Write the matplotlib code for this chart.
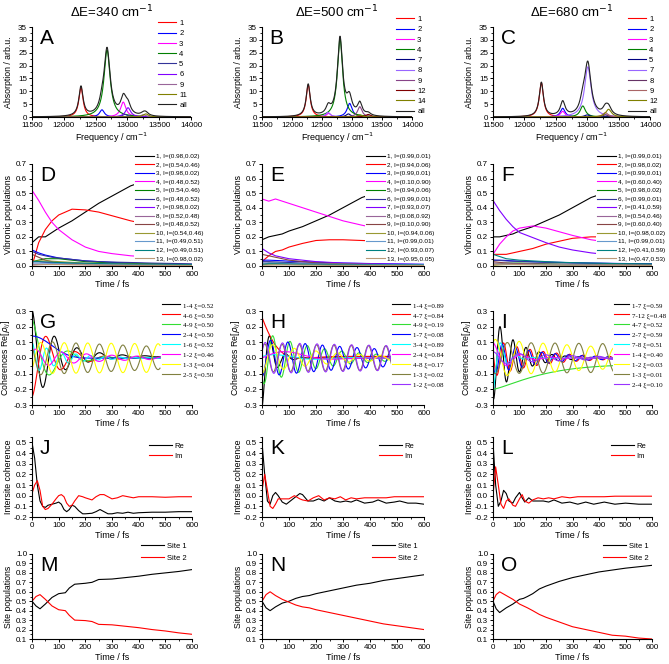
import numpy as np
import matplotlib
matplotlib.use('Agg')
import matplotlib.pyplot as plt
from matplotlib.ticker import MultipleLocator

W, H = 669, 664
plt.rcParams['font.family'] = ['Liberation Sans', 'DejaVu Sans']
plt.rcParams['axes.linewidth'] = 0.8

# ---------------- data ----------------
titles = ['\u0394E=340 cm$^{-1}$', '\u0394E=500 cm$^{-1}$', '\u0394E=680 cm$^{-1}$']

# absorption spectra: one Lorentzian band per component (centre, height, half width)
specA_labels = ['1', '2', '3', '4', '5', '6', '9', '11']
specA_centers = [12270, 12600, 12935, 12680, 12960, 13010, 13250, 13290]
specA_heights = [11.5, 2.8, 5.8, 26.0, 1.0, 3.6, 0.9, 1.2]
specA_widths = [40, 45, 50, 58, 50, 50, 50, 50]
specA_colors = ['#FF0000', '#0000FF', '#FF00FF', '#008000', '#333399', '#8000FF', '#996699', '#808000']

specB_labels = ['1', '2', '3', '4', '7', '8', '9', '12', '14']
specB_centers = [12270, 12960, 12610, 12800, 12940, 12600, 13130, 13270, 13130]
specB_heights = [12.5, 5.3, 1.4, 30.5, 1.2, 1.8, 4.0, 1.0, 0.8]
specB_widths = [40, 50, 45, 52, 45, 45, 45, 50, 50]
specB_colors = ['#FF0000', '#0000FF', '#FF00FF', '#008000', '#000080', '#9966FF', '#884488', '#800000', '#808000']

specC_labels = ['1', '2', '3', '4', '5', '7', '8', '9', '12']
specC_centers = [12270, 12610, 12610, 12930, 13000, 13010, 13290, 13290, 13340]
specC_heights = [13.3, 3.4, 2.2, 4.3, 0.8, 19.5, 0.8, 1.7, 3.0]
specC_widths = [40, 45, 45, 50, 50, 62, 50, 50, 55]
specC_colors = ['#FF0000', '#0000FF', '#FF00FF', '#008000', '#000080', '#9966FF', '#663366', '#AA6666', '#808000']

# vibronic populations
t_pop = [0, 25, 50, 75, 100, 150, 200, 250, 300, 370, 450, 600]
pop_colors = ['#000000', '#FF0000', '#0000FF', '#FF00FF', '#008000', '#333399', '#8000FF',
              '#996699', '#884444', '#999933', '#6699CC', '#008080', '#BB9977']
popD_labels = ['1, I=(0.98,0.02)', '2, I=(0.54,0.46)', '3, I=(0.98,0.02)', '4, I=(0.48,0.52)',
               '5, I=(0.54,0.46)', '6, I=(0.48,0.52)', '7, I=(0.98,0.02)', '8, I=(0.52,0.48)',
               '9, I=(0.48,0.52)', '10, I=(0.54,0.46)', '11, I=(0.49,0.51)', '12, I=(0.49,0.51)',
               '13, I=(0.98,0.02)']
popD = [
    [0.16, 0.20, 0.20, 0.23, 0.26, 0.31, 0.37, 0.43, 0.48, 0.55, 0.60, 0.65],
    [0.00, 0.16, 0.25, 0.31, 0.35, 0.39, 0.385, 0.37, 0.345, 0.31, 0.28, 0.23],
    [0.11, 0.09, 0.075, 0.065, 0.055, 0.045, 0.035, 0.03, 0.025, 0.02, 0.015, 0.01],
    [0.52, 0.45, 0.37, 0.30, 0.25, 0.18, 0.13, 0.10, 0.085, 0.07, 0.06, 0.05],
    [0.03, 0.04, 0.05, 0.05, 0.05, 0.04, 0.03, 0.025, 0.02, 0.018, 0.015, 0.01],
    [0.10, 0.08, 0.07, 0.06, 0.055, 0.045, 0.035, 0.03, 0.027, 0.024, 0.02, 0.015],
    [0.03, 0.03, 0.025, 0.022, 0.02, 0.018, 0.015, 0.013, 0.011, 0.01, 0.008, 0.006],
    [0.01, 0.012, 0.012, 0.012, 0.011, 0.01, 0.009, 0.008, 0.007, 0.006, 0.005, 0.004],
    [0.08, 0.06, 0.04, 0.03, 0.02, 0.015, 0.01, 0.008, 0.006, 0.005, 0.004, 0.003],
    [0.03, 0.035, 0.035, 0.033, 0.03, 0.025, 0.02, 0.018, 0.015, 0.013, 0.011, 0.009],
    [0.02, 0.02, 0.02, 0.018, 0.017, 0.015, 0.013, 0.012, 0.011, 0.01, 0.009, 0.008],
    [0.03, 0.03, 0.028, 0.026, 0.024, 0.021, 0.019, 0.017, 0.015, 0.013, 0.012, 0.01],
    [0.005, 0.008, 0.01, 0.01, 0.01, 0.009, 0.008, 0.007, 0.006, 0.005, 0.005, 0.004],
]
popE_labels = ['1, I=(0.99,0.01)', '2, I=(0.94,0.06)', '3, I=(0.99,0.01)', '4, I=(0.10,0.90)',
               '5, I=(0.94,0.06)', '6, I=(0.99,0.01)', '7, I=(0.93,0.07)', '8, I=(0.08,0.92)',
               '9, I=(0.10,0.90)', '10, I=(0.94,0.06)', '11, I=(0.99,0.01)', '12, I=(0.93,0.07)',
               '13, I=(0.95,0.05)']
popE = [
    [0.18, 0.20, 0.21, 0.22, 0.24, 0.27, 0.31, 0.35, 0.40, 0.47, 0.52, 0.60],
    [0.03, 0.07, 0.10, 0.11, 0.13, 0.155, 0.175, 0.18, 0.18, 0.175, 0.17, 0.16],
    [0.04, 0.04, 0.038, 0.036, 0.033, 0.03, 0.026, 0.023, 0.02, 0.018, 0.015, 0.012],
    [0.46, 0.445, 0.46, 0.445, 0.43, 0.40, 0.37, 0.34, 0.31, 0.28, 0.25, 0.20],
    [0.01, 0.02, 0.02, 0.02, 0.018, 0.015, 0.012, 0.01, 0.009, 0.008, 0.007, 0.006],
    [0.03, 0.03, 0.028, 0.026, 0.024, 0.02, 0.017, 0.015, 0.013, 0.011, 0.01, 0.008],
    [0.12, 0.09, 0.07, 0.06, 0.05, 0.04, 0.03, 0.025, 0.02, 0.017, 0.014, 0.01],
    [0.02, 0.02, 0.018, 0.016, 0.015, 0.013, 0.011, 0.01, 0.009, 0.008, 0.007, 0.006],
    [0.08, 0.07, 0.06, 0.05, 0.04, 0.03, 0.022, 0.018, 0.015, 0.012, 0.01, 0.008],
    [0.01, 0.012, 0.012, 0.012, 0.011, 0.01, 0.009, 0.008, 0.007, 0.006, 0.005, 0.004],
    [0.02, 0.02, 0.02, 0.018, 0.017, 0.015, 0.014, 0.013, 0.012, 0.011, 0.01, 0.009],
    [0.01, 0.015, 0.015, 0.014, 0.013, 0.012, 0.011, 0.01, 0.009, 0.008, 0.007, 0.006],
    [0.005, 0.006, 0.007, 0.007, 0.007, 0.006, 0.006, 0.005, 0.005, 0.004, 0.004, 0.003],
]
popF_labels = ['1, I=(0.99,0.01)', '2, I=(0.98,0.02)', '3, I=(0.99,0.01)', '4, I=(0.60,0.40)',
               '5, I=(0.98,0.02)', '6, I=(0.99,0.01)', '7, I=(0.41,0.59)', '8, I=(0.54,0.46)',
               '9, I=(0.60,0.40)', '10, I=(0.98,0.02)', '11, I=(0.99,0.01)', '12, I=(0.41,0.59)',
               '13, I=(0.47,0.53)']
popF = [
    [0.20, 0.20, 0.21, 0.22, 0.24, 0.27, 0.31, 0.35, 0.40, 0.47, 0.52, 0.60],
    [0.08, 0.08, 0.08, 0.09, 0.10, 0.12, 0.15, 0.17, 0.19, 0.20, 0.20, 0.19],
    [0.04, 0.04, 0.038, 0.035, 0.033, 0.03, 0.027, 0.025, 0.022, 0.02, 0.018, 0.015],
    [0.08, 0.15, 0.20, 0.24, 0.26, 0.275, 0.26, 0.235, 0.21, 0.18, 0.16, 0.14],
    [0.01, 0.015, 0.02, 0.02, 0.02, 0.018, 0.015, 0.013, 0.011, 0.01, 0.008, 0.006],
    [0.04, 0.038, 0.035, 0.033, 0.031, 0.028, 0.025, 0.023, 0.021, 0.019, 0.017, 0.014],
    [0.45, 0.38, 0.32, 0.27, 0.23, 0.195, 0.16, 0.13, 0.11, 0.09, 0.075, 0.06],
    [0.02, 0.02, 0.019, 0.018, 0.017, 0.015, 0.013, 0.012, 0.011, 0.01, 0.009, 0.008],
    [0.03, 0.025, 0.02, 0.017, 0.015, 0.012, 0.01, 0.009, 0.008, 0.007, 0.006, 0.005],
    [0.005, 0.008, 0.01, 0.01, 0.01, 0.009, 0.008, 0.007, 0.006, 0.005, 0.005, 0.004],
    [0.01, 0.012, 0.012, 0.012, 0.011, 0.01, 0.009, 0.008, 0.007, 0.006, 0.005, 0.004],
    [0.08, 0.065, 0.05, 0.045, 0.04, 0.035, 0.03, 0.026, 0.023, 0.02, 0.017, 0.014],
    [0.01, 0.012, 0.012, 0.011, 0.01, 0.009, 0.008, 0.007, 0.006, 0.005, 0.005, 0.004],
]

# coherences: damped cosines
# (amplitude, period fs, decay fs, decay exponent, time of a maximum fs, offset)
cohG_labels = ['1-4 \u03be=0.52', '4-6 \u03be=0.50', '4-9 \u03be=0.50', '2-4 \u03be=0.50',
               '1-6 \u03be=0.52', '1-2 \u03be=0.46', '1-3 \u03be=0.04', '2-5 \u03be=0.50']
cohG_colors = ['#000000', '#FF0000', '#33DD33', '#0000FF', '#00FFFF', '#FF00FF', '#FFFF00', '#808040']
cohG = [(0.30, 85, 100, 1, 0, 0.01), (-0.25, 110, 90, 1, 0, 0.0), (0.25, 140, 80, 1, 0, 0.0),
        (0.14, 800, 120, 2, 0, 0.0), (0.10, 55, 120, 1, 0, 0.0), (0.06, 95, 250, 1, 15, 0.0),
        (0.10, 88, 5000, 1, 33, 0.0), (0.11, 88, 1200, 1, 77, 0.0)]

cohH_labels = ['1-4 \u03be=0.89', '4-7 \u03be=0.84', '4-9 \u03be=0.19', '1-7 \u03be=0.08',
               '3-4 \u03be=0.89', '2-4 \u03be=0.84', '4-8 \u03be=0.17', '1-3 \u03be=0.02', '1-2 \u03be=0.08']
cohH_colors = ['#000000', '#FF0000', '#33DD33', '#0000FF', '#00FFFF', '#FF00FF', '#FFFF00', '#808040', '#9933FF']
cohH = [(-0.32, 60, 35, 1, 0, 0.0), (0.25, 400, 55, 1, 0, 0.01), (0.17, 64, 220, 1, 40, 0.0),
        (0.12, 64, 600, 1, 32, 0.0), (0.03, 300, 150, 1, 60, 0.0), (0.05, 400, 200, 2, 100, 0.0),
        (0.10, 80, 250, 1, 40, 0.0), (0.09, 64, 3000, 1, 10, 0.0), (0.10, 64, 2000, 1, 12, 0.0)]

cohI_labels = ['1-7 \u03be=0.59', '7-12 \u03be=0.48', '4-7 \u03be=0.52', '2-7 \u03be=0.59',
               '7-8 \u03be=0.51', '1-4 \u03be=0.40', '1-2 \u03be=0.03', '1-3 \u03be=0.01', '2-4 \u03be=0.10']
cohI_colors = ['#000000', '#FF0000', '#33DD33', '#0000FF', '#00FFFF', '#FF00FF', '#FFFF00', '#808040', '#9933FF']
cohI = [(0.27, 49, 90, 1, 27, 0.0), (0.12, 50, 180, 1, 40, 0.0), (-0.16, 1e9, 200, 1.3, 0, -0.04),
        (0.11, 50, 170, 1, 35, 0.0), (-0.22, 60, 35, 1, 0, 0.0), (0.10, 110, 70, 1, 0, 0.0),
        (0.12, 90, 800, 1, 99, 0.0), (0.10, 90, 5000, 1, 54, 0.0), (0.04, 100, 300, 1, 0, 0.0)]

# intersite coherence
tJ = [0, 10, 20, 30, 40, 50, 60, 75, 90, 100, 110, 120, 130, 140, 150, 160, 175, 190, 200, 225,
      240, 255, 270, 285, 300, 320, 340, 360, 380, 400, 450, 500, 550, 600]
reJ = [0.50, 0.35, 0.10, -0.05, -0.10, -0.11, -0.09, -0.08, -0.07, -0.06, -0.08, -0.13, -0.15, -0.13,
       -0.09, -0.10, -0.14, -0.17, -0.17, -0.165, -0.15, -0.13, -0.15, -0.17, -0.17, -0.16, -0.165,
       -0.155, -0.165, -0.16, -0.155, -0.155, -0.15, -0.15]
imJ = [0.02, 0.10, 0.14, 0.05, -0.10, -0.13, -0.12, -0.08, -0.03, 0.00, 0.01, -0.01, -0.07, -0.10,
       -0.09, -0.05, 0.00, -0.01, -0.02, -0.04, -0.01, 0.01, 0.01, -0.01, -0.03, -0.02, 0.00, -0.01,
       -0.02, -0.01, -0.01, -0.015, -0.01, -0.01]
tK = [0, 10, 20, 30, 40, 50, 60, 75, 90, 100, 120, 140, 150, 170, 190, 210, 230, 250, 270, 290,
      310, 330, 350, 380, 410, 430, 460, 490, 510, 540, 570, 600]
reK = [0.50, 0.20, -0.05, -0.08, 0.00, 0.03, 0.00, -0.06, -0.08, -0.06, -0.02, 0.02, 0.01, -0.05,
       -0.05, -0.03, -0.05, -0.02, -0.05, -0.06, -0.05, -0.06, -0.04, -0.07, -0.06, -0.04, -0.07,
       -0.06, -0.05, -0.07, -0.07, -0.08]
imK = [0.05, 0.20, 0.05, -0.10, -0.12, -0.08, -0.03, -0.03, -0.03, -0.03, 0.00, -0.03, -0.04, -0.05,
       -0.02, 0.00, -0.04, -0.02, -0.03, -0.01, -0.04, -0.02, -0.03, -0.02, -0.02, -0.02, -0.02,
       -0.01, -0.01, -0.01, -0.01, -0.01]
tL = [0, 10, 20, 30, 40, 50, 60, 75, 85, 100, 110, 120, 135, 150, 170, 190, 210, 230, 260, 290,
      320, 350, 380, 420, 460, 500, 550, 600]
reL = [0.50, 0.10, -0.10, -0.05, 0.05, 0.02, -0.05, -0.07, -0.02, 0.03, -0.02, -0.06, -0.02, -0.05,
       -0.05, -0.05, -0.06, -0.04, -0.07, -0.06, -0.08, -0.06, -0.08, -0.06, -0.08, -0.07, -0.08, -0.08]
imL = [0.00, 0.27, 0.10, -0.08, -0.12, -0.05, -0.03, -0.09, -0.10, -0.03, 0.01, -0.05, -0.07, -0.04,
       -0.02, -0.03, -0.02, -0.03, -0.01, -0.02, -0.01, -0.01, -0.01, -0.01, -0.005, -0.005, -0.005, -0.005]

# site populations
tM = [0, 15, 30, 50, 75, 100, 125, 140, 160, 200, 225, 250, 300, 350, 400, 450, 500, 550, 600]
site1M = [0.50, 0.45, 0.42, 0.47, 0.54, 0.58, 0.59, 0.64, 0.68, 0.69, 0.70, 0.73, 0.735, 0.75,
          0.765, 0.785, 0.80, 0.815, 0.835]
site2M = [0.50, 0.55, 0.57, 0.52, 0.45, 0.41, 0.40, 0.35, 0.30, 0.295, 0.285, 0.255, 0.25, 0.235,
          0.22, 0.20, 0.185, 0.165, 0.15]
tN = [0, 15, 30, 50, 75, 100, 125, 150, 175, 200, 250, 300, 350, 400, 450, 500, 550, 600]
site1N = [0.50, 0.43, 0.40, 0.44, 0.48, 0.50, 0.53, 0.55, 0.56, 0.58, 0.61, 0.64, 0.67, 0.69,
          0.72, 0.74, 0.76, 0.78]
site2N = [0.50, 0.57, 0.60, 0.56, 0.52, 0.49, 0.46, 0.44, 0.43, 0.41, 0.38, 0.35, 0.32, 0.29,
          0.26, 0.24, 0.22, 0.20]
tO = [0, 12, 25, 50, 75, 100, 115, 130, 150, 175, 200, 250, 300, 350, 400, 450, 500, 550, 600]
site1O = [0.50, 0.42, 0.38, 0.43, 0.47, 0.52, 0.53, 0.55, 0.58, 0.63, 0.66, 0.71, 0.75, 0.78,
          0.81, 0.83, 0.85, 0.865, 0.88]
site2O = [0.50, 0.57, 0.60, 0.56, 0.52, 0.47, 0.45, 0.43, 0.40, 0.36, 0.33, 0.28, 0.23, 0.20,
          0.17, 0.14, 0.13, 0.11, 0.10]

# ---------------- layout ----------------
fig = plt.figure(figsize=(W / 100, H / 100), dpi=100)

def px_axes(x0, x1, ytop, ybot):
    ax = fig.add_axes([x0 / W, 1 - ybot / H, (x1 - x0) / W, (ybot - ytop) / H])
    ax.width_px = x1 - x0
    return ax

def style(ax, xlim, ylim, xmaj, ymaj, xlabel, ylabel, yfmt):
    ax.set_xlim(*xlim)
    ax.set_ylim(*ylim)
    ax.xaxis.set_major_locator(MultipleLocator(xmaj))
    ax.xaxis.set_minor_locator(MultipleLocator(xmaj / 2))
    ax.yaxis.set_major_locator(MultipleLocator(ymaj))
    ax.yaxis.set_minor_locator(MultipleLocator(ymaj / 2))
    ax.yaxis.set_major_formatter(plt.FormatStrFormatter(yfmt))
    for s in ['top', 'right']:
        ax.spines[s].set_visible(False)
    ax.tick_params(which='major', direction='out', length=2.5, width=0.7, labelsize=5.8, pad=1)
    ax.tick_params(which='minor', direction='out', length=1.3, width=0.6)
    ax.set_xlabel(xlabel, fontsize=6.5, labelpad=1.5)
    ax.set_ylabel(ylabel, fontsize=6.3)
    # right edge of the y label 19 px left of the axis line
    ax.yaxis.set_label_coords(-19 / ax.width_px, 0.5)

def letter(ax, s):
    ax.text(0.05, 0.98, s, transform=ax.transAxes, fontsize=15, va='top', ha='left')

def legend(ax, x, y, fs, ls, hl, family=None, white=False):
    prop = {'size': fs}
    if family:
        prop['family'] = family
    leg = ax.legend(loc='upper left', bbox_to_anchor=(x / W, 1 - y / H),
                    bbox_transform=fig.transFigure, prop=prop, labelspacing=ls,
                    handlelength=hl, handletextpad=0.4, borderpad=0.1, borderaxespad=0,
                    frameon=white, fancybox=False)
    if white:
        leg.get_frame().set_facecolor('white')
        leg.get_frame().set_edgecolor('none')
        leg.get_frame().set_alpha(1)
    return leg

cols_top = [(32, 191), (262, 412), (493, 650)]
cols = [(32, 192), (262, 424), (493, 652)]

# row 1: absorption spectra
freq = np.arange(11500, 14001, 2.0)
spec_sets = [(specA_labels, specA_centers, specA_heights, specA_widths, specA_colors),
             (specB_labels, specB_centers, specB_heights, specB_widths, specB_colors),
             (specC_labels, specC_centers, specC_heights, specC_widths, specC_colors)]
leg_x1 = [157, 395, 627]
leg_y1 = [19, 15, 15]
for i, (labs, cen, hei, wid, colr) in enumerate(spec_sets):
    ax = px_axes(cols_top[i][0], cols_top[i][1], 27, 117)
    total = np.zeros_like(freq)
    for lab, c, h, g, col in zip(labs, cen, hei, wid, colr):
        band = h / (1 + ((freq - c) / g) ** 2)
        total += band
        ax.plot(freq, band, color=col, lw=0.8, label=lab)
    ax.plot(freq, total, color='#222222', lw=0.8, label='all')
    style(ax, (11500, 14000), (0, 35), 500, 5, 'Frequency / cm$^{-1}$', 'Absorption / arb.u.', '%d')
    letter(ax, 'ABC'[i])
    ax.set_title(titles[i], fontsize=9.5, pad=7)
    legend(ax, leg_x1[i], leg_y1[i], 5.5, 0.38, 2.4)

# row 2: vibronic populations
pop_sets = [(popD_labels, popD), (popE_labels, popE), (popF_labels, popF)]
leg_x2 = [134, 365, 596]
for i, (labs, pops) in enumerate(pop_sets):
    ax = px_axes(cols[i][0], cols[i][1], 164, 266)
    for lab, p, col in zip(labs, pops, pop_colors):
        ax.plot(t_pop, p, color=col, lw=0.8, label=lab)
    style(ax, (0, 600), (0, 0.7), 100, 0.1, 'Time / fs', 'Vibronic populations', '%.1f')
    letter(ax, 'DEF'[i])
    legend(ax, leg_x2[i], 153, 4.6, 0.48, 3.0, family=['Liberation Sans Narrow', 'Liberation Sans'], white=True)

# row 3: coherences
t_coh = np.arange(0, 481, 1.0)
coh_sets = [(cohG_labels, cohG, cohG_colors), (cohH_labels, cohH, cohH_colors), (cohI_labels, cohI, cohI_colors)]
leg_x3 = [161, 391, 613]
leg_h3 = [2.6, 2.6, 2.2]
for i, (labs, pars, colr) in enumerate(coh_sets):
    ax = px_axes(cols[i][0], cols[i][1], 311, 405)
    for lab, (a, per, tau, pw, t0, off), col in zip(labs, pars, colr):
        y = off + a * np.exp(-(t_coh / tau) ** pw) * np.cos(2 * np.pi * (t_coh - t0) / per)
        ax.plot(t_coh, y, color=col, lw=0.8, label=lab)
    style(ax, (0, 600), (-0.3, 0.3), 100, 0.1, 'Time / fs', 'Coherences Re[$\\rho_{ij}$]', '%.1f')
    letter(ax, 'GHI'[i])
    legend(ax, leg_x3[i], 301, 5.0, 0.45, leg_h3[i], family=['Liberation Serif', 'DejaVu Serif'], white=True)

# row 4: intersite coherence
ic_sets = [(tJ, reJ, imJ), (tK, reK, imK), (tL, reL, imL)]
leg_x4 = [148, 378, 610]
for i, (tt, re, im) in enumerate(ic_sets):
    ax = px_axes(cols[i][0], cols[i][1], 437, 517)
    ax.plot(tt, re, color='#000000', lw=0.8, label='Re')
    ax.plot(tt, im, color='#FF0000', lw=0.8, label='Im')
    style(ax, (0, 600), (-0.2, 0.55), 100, 0.1, 'Time / fs', 'Intersite coherence', '%.1f')
    letter(ax, 'JKL'[i])
    legend(ax, leg_x4[i], 442, 5.5, 0.35, 3.0)

# row 5: site populations
site_sets = [(tM, site1M, site2M), (tN, site1N, site2N), (tO, site1O, site2O)]
leg_x5 = [140, 371, 602]
for i, (tt, s1, s2) in enumerate(site_sets):
    ax = px_axes(cols[i][0], cols[i][1], 554, 639)
    ax.plot(tt, s1, color='#000000', lw=0.8, label='Site 1')
    ax.plot(tt, s2, color='#FF0000', lw=0.8, label='Site 2')
    style(ax, (0, 600), (0.1, 1.0), 100, 0.1, 'Time / fs', 'Site populations', '%.1f')
    letter(ax, 'MNO'[i])
    legend(ax, leg_x5[i], 542, 5.5, 0.6, 3.0)

fig.savefig('out.png', dpi=100)
